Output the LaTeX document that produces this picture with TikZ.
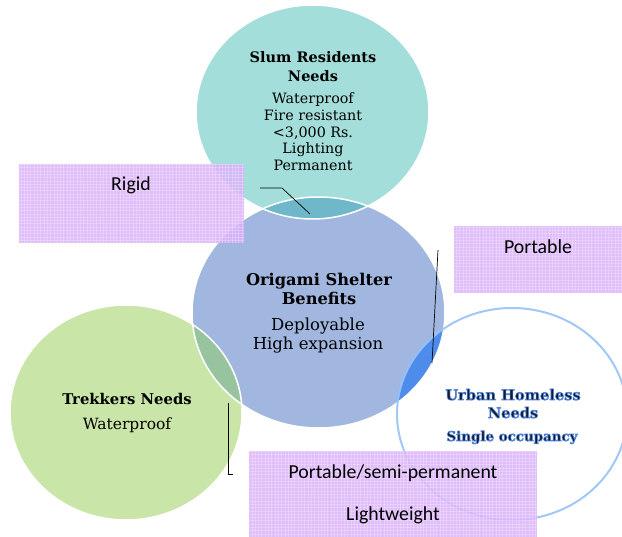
\documentclass[tikz,border=0pt]{standalone}
\usepackage{fontspec}
\newfontfamily\circfont{DejaVu Serif}
\newfontfamily\boxfont{Carlito}
\definecolor{slumfill}{RGB}{164,222,219}
\definecolor{shelterfill}{RGB}{161,183,223}
\definecolor{trekfill}{RGB}{201,229,167}
\definecolor{ovteal}{RGB}{110,184,202}
\definecolor{ovgreen}{RGB}{151,196,158}
\definecolor{ovblue}{RGB}{78,140,236}
\definecolor{urbanline}{RGB}{150,195,250}
\definecolor{boxfill}{RGB}{219,178,250}
\definecolor{navytext}{RGB}{18,26,48}
% outlined text: dark fill with a thin blue stroke round each glyph
\newcommand{\glowtext}[1]{\special{pdf:literal direct 2 Tr 0.65 w 0.33 0.52 0.86 RG}#1\special{pdf:literal direct 0 Tr}}
\tikzset{
  rim/.style={draw=white, line width=1.5pt},
  leader/.style={draw=black, line width=0.7pt},
  lbl/.style={inner sep=0pt, anchor=base, text=black},
  slumtxt/.style={lbl, font=\circfont\fontsize{14.3}{16}\selectfont},
  slumhead/.style={lbl, font=\circfont\bfseries\fontsize{14.5}{16}\selectfont},
  shelthead/.style={lbl, font=\circfont\bfseries\fontsize{16.2}{18}\selectfont},
  shelttxt/.style={lbl, font=\circfont\fontsize{16.5}{18}\selectfont},
  trekhead/.style={lbl, font=\circfont\bfseries\fontsize{14.8}{16}\selectfont},
  trektxt/.style={lbl, font=\circfont\fontsize{15.5}{17}\selectfont},
  urbanhead/.style={lbl, text=navytext, font=\circfont\bfseries\fontsize{14.6}{16}\selectfont},
  urbantxt/.style={lbl, text=navytext, font=\circfont\bfseries\fontsize{13.4}{15}\selectfont},
  boxtxt/.style={lbl, font=\boxfont\fontsize{19.8}{22}\selectfont},
  notebox/.style={fill=boxfill, fill opacity=0.85, draw=none},
  boxgrid/.style={draw=white, line width=0.45pt, opacity=0.25}
}
\begin{document}
\begin{tikzpicture}[x=1pt,y=-1pt]
\useasboundingbox (0,0) rectangle (622,537);

% circle fills
\fill[slumfill]    (312.5,112)   ellipse [x radius=116.5, y radius=107];
\fill[shelterfill] (318.5,312.5) ellipse [x radius=126.5, y radius=115.5];
\fill[trekfill]    (126,412.5)   ellipse [x radius=116,   y radius=107.5];
\fill[white]       (512,414)     ellipse [x radius=115,   y radius=106];

% overlaps with the shelter circle
\begin{scope}
  \clip (318.5,312.5) ellipse [x radius=126.5, y radius=115.5];
  \fill[ovteal]  (312.5,112) ellipse [x radius=116.5, y radius=107];
  \fill[ovgreen] (126,412.5) ellipse [x radius=116,   y radius=107.5];
  \fill[ovblue]  (512,414)   ellipse [x radius=115,   y radius=106];
\end{scope}

% circle rims
\draw[rim] (318.5,312.5) ellipse [x radius=126.5, y radius=115.5];
\draw[rim] (312.5,112)   ellipse [x radius=116.5, y radius=107];
\draw[rim] (126,412.5)   ellipse [x radius=116,   y radius=107.5];
\draw[urbanline, line width=2pt, opacity=0.9] (512,414) ellipse [x radius=115, y radius=106];

% slum residents
\node[slumhead] (slum1) at (313,63) {Slum Residents};
\node[slumhead] (slum2) at (313,82) {Needs};
\node[slumtxt]  (slum3) at (313,104) {Waterproof};
\node[slumtxt]  (slum4) at (313,121) {Fire resistant};
\node[slumtxt]  (slum5) at (313,138) {<3,000 Rs.};
\node[slumtxt]  (slum6) at (313,154) {Lighting};
\node[slumtxt]  (slum7) at (313,170.5) {Permanent};

% origami shelter
\node[shelthead] (shel1) at (319,286) {Origami Shelter};
\node[shelthead] (shel2) at (319,305) {Benefits};
\node[shelttxt]  (shel3) at (318,331) {Deployable};
\node[shelttxt]  (shel4) at (318,350) {High expansion};

% trekkers
\node[trekhead] (trek1) at (127,405) {Trekkers Needs};
\node[trektxt]  (trek2) at (127,430) {Waterproof};

% urban homeless
\node[urbanhead] (urb1) at (513,400) {\glowtext{Urban Homeless}};
\node[urbanhead] (urb2) at (513,418) {\glowtext{Needs}};
\node[urbantxt]  (urb3) at (512,441) {\glowtext{Single occupancy}};

% note boxes
\path[notebox] (19,164) rectangle (244,243);
\path[notebox] (454,226) rectangle (622,293);
\path[notebox] (249,451) rectangle (537,537);
\begin{scope}
  \clip (19,164) rectangle (244,243) (454,226) rectangle (622,293) (249,451) rectangle (537,537);
  \foreach \gx in {1,4.3,...,622} \draw[boxgrid] (\gx,160) -- (\gx,537);
  \foreach \gy in {161,164.3,...,537} \draw[boxgrid] (0,\gy) -- (622,\gy);
\end{scope}

\node[boxtxt] (rigid) at (131,191) {Rigid};
\node[boxtxt] (port)  at (538,254) {Portable};
\node[boxtxt] (semi)  at (393,479) {Portable/semi-permanent};
\node[boxtxt] (light) at (393,521) {Lightweight};

% leader lines
\coordinate (la) at (260,188);
\coordinate (lb) at (282,188);
\coordinate (lc) at (310,214);
\draw[leader] (la) -- (lb) -- (lc);
\coordinate (pa) at (438,250);
\coordinate (pb) at (432,363);
\draw[leader] (pa) -- (pb);
\coordinate (ta) at (228,403);
\coordinate (tb) at (228,474);
\coordinate (tc) at (233,474);
\draw[leader] (ta) -- (tb) -- (tc);
\end{tikzpicture}
\end{document}
